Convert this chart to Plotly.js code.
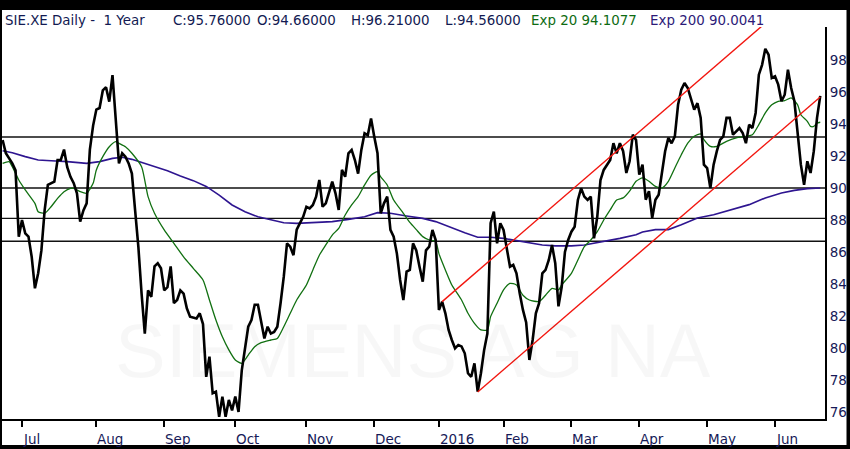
<!DOCTYPE html>
<html>
<head>
<meta charset="utf-8">
<script src="https://cdn.plot.ly/plotly-3.0.1.min.js"></script>
<style>html,body{margin:0;padding:0;background:#000;}#chart{width:850px;height:449px;}</style>
</head>
<body>
<div id="chart"></div>
<script>
// ---------- DATA ----------
const priceDates = [
"2015-06-23","2015-06-24","2015-06-26","2015-06-29","2015-06-30",
"2015-07-01","2015-07-02","2015-07-03","2015-07-06","2015-07-07","2015-07-08","2015-07-09","2015-07-10","2015-07-13","2015-07-15","2015-07-16","2015-07-17","2015-07-20","2015-07-21","2015-07-22","2015-07-23","2015-07-24","2015-07-27","2015-07-28","2015-07-29","2015-07-30","2015-07-31",
"2015-08-03","2015-08-04","2015-08-05","2015-08-06","2015-08-07","2015-08-10","2015-08-11","2015-08-12","2015-08-13","2015-08-14","2015-08-17","2015-08-18","2015-08-19","2015-08-20","2015-08-21","2015-08-24","2015-08-25","2015-08-26","2015-08-27","2015-08-28","2015-08-31",
"2015-09-01","2015-09-02","2015-09-03","2015-09-04","2015-09-07","2015-09-08","2015-09-09","2015-09-10","2015-09-11","2015-09-15","2015-09-16","2015-09-17","2015-09-18","2015-09-21","2015-09-22","2015-09-23","2015-09-24","2015-09-25","2015-09-28","2015-09-29","2015-09-30",
"2015-10-01","2015-10-02","2015-10-05","2015-10-06","2015-10-07","2015-10-08","2015-10-09","2015-10-12","2015-10-13","2015-10-14","2015-10-15","2015-10-16","2015-10-19","2015-10-20","2015-10-21","2015-10-22","2015-10-23","2015-10-26","2015-10-27","2015-10-28","2015-10-29","2015-10-30",
"2015-11-02","2015-11-03","2015-11-04","2015-11-05","2015-11-06","2015-11-09","2015-11-10","2015-11-12","2015-11-13","2015-11-16","2015-11-17","2015-11-18","2015-11-19","2015-11-20","2015-11-23","2015-11-24","2015-11-25","2015-11-26","2015-11-27","2015-11-30",
"2015-12-01","2015-12-02","2015-12-03","2015-12-04","2015-12-07","2015-12-08","2015-12-09","2015-12-10","2015-12-11","2015-12-14","2015-12-15","2015-12-16","2015-12-17","2015-12-18","2015-12-21","2015-12-22","2015-12-23","2015-12-28","2015-12-29","2015-12-30",
"2016-01-04","2016-01-05","2016-01-06","2016-01-07","2016-01-08","2016-01-11","2016-01-12","2016-01-13","2016-01-14","2016-01-15","2016-01-18","2016-01-19","2016-01-20","2016-01-21","2016-01-22","2016-01-25","2016-01-26","2016-01-27","2016-01-28","2016-01-29",
"2016-02-01","2016-02-02","2016-02-03","2016-02-04","2016-02-05","2016-02-08","2016-02-09","2016-02-10","2016-02-11","2016-02-12","2016-02-15","2016-02-16","2016-02-17","2016-02-18","2016-02-19","2016-02-22","2016-02-23","2016-02-24","2016-02-25","2016-02-26","2016-02-29",
"2016-03-01","2016-03-02","2016-03-03","2016-03-04","2016-03-07","2016-03-08","2016-03-09","2016-03-10","2016-03-11","2016-03-14","2016-03-15","2016-03-16","2016-03-17","2016-03-18","2016-03-21","2016-03-22","2016-03-23","2016-03-24","2016-03-29","2016-03-30","2016-03-31",
"2016-04-01","2016-04-04","2016-04-05","2016-04-06","2016-04-07","2016-04-08","2016-04-11","2016-04-12","2016-04-13","2016-04-14","2016-04-15","2016-04-18","2016-04-19","2016-04-20","2016-04-21","2016-04-22","2016-04-25","2016-04-26","2016-04-27","2016-04-28","2016-04-29",
"2016-05-02","2016-05-03","2016-05-04","2016-05-05","2016-05-06","2016-05-09","2016-05-10","2016-05-11","2016-05-12","2016-05-13","2016-05-17","2016-05-18","2016-05-19","2016-05-20","2016-05-23","2016-05-24","2016-05-25","2016-05-26","2016-05-27","2016-05-30","2016-05-31",
"2016-06-01","2016-06-02","2016-06-03","2016-06-06","2016-06-07","2016-06-08","2016-06-09","2016-06-10","2016-06-13","2016-06-14","2016-06-15","2016-06-16","2016-06-17","2016-06-20","2016-06-21"
];
const priceValues = [
93.0,92.17,91.54,91.1,86.96,
88.0,87.17,86.96,85.7,83.73,84.67,86.1,88.6,90.19,90.4,91.75,91.75,92.4,91.3,90.7,90.3,89.67,87.9,88.6,89.04,92.4,93.9,
94.9,95.0,96.1,96.3,95.4,97.06,94.25,91.54,92.17,91.96,91.54,90.9,88.6,86.33,83.4,80.9,83.6,83.2,85.1,85.3,84.98,
83.6,83.8,85.1,82.8,83.0,83.6,83.4,82.48,81.96,81.85,82.17,81.5,78.2,79.46,77.17,77.27,75.7,76.96,75.7,76.75,76.1,
76.96,76.0,78.6,80.08,81.33,81.75,82.7,82.7,81.75,80.6,81.33,80.9,81.0,81.33,82.8,84.46,86.54,86.33,85.8,87.4,87.8,88.2,
88.83,88.73,88.94,89.46,90.5,88.83,89.04,90.4,89.67,88.63,91.13,90.7,92.17,92.38,91.75,90.9,92.38,93.42,93.3,94.35,
93.2,92.17,88.42,89.04,89.46,87.38,86.96,85.9,84.25,83.0,84.77,84.88,86.54,86.1,85.08,84.15,86.1,86.33,87.38,86.75,
82.38,82.9,82.17,81.13,80.5,79.98,80.19,80.1,79.67,78.42,78.2,79.04,77.27,78.42,79.88,80.9,87.8,88.52,86.54,87.8,
87.38,86.33,85.08,85.19,84.67,83.42,82.38,81.6,79.25,80.5,82.17,82.8,84.67,84.88,85.5,86.44,85.3,82.6,83.83,86.0,86.75,
87.27,87.58,89.25,89.98,89.46,89.25,89.46,86.85,88.2,90.5,91.13,91.44,91.75,92.8,92.17,92.8,92.3,90.94,91.67,93.33,93.0,
90.83,91.46,89.27,89.8,88.13,89.27,89.58,90.83,92.3,93.13,92.8,93.23,95.2,96.15,96.56,96.25,95.63,94.9,95.3,94.38,91.46,
91.25,90.0,91.46,92.3,93.0,93.23,94.38,94.38,93.33,93.54,93.75,93.44,92.8,93.96,93.75,94.69,97.08,97.7,98.7,98.33,96.88,
96.98,96.46,95.42,95.83,97.4,96.25,95.42,93.33,91.46,90.2,91.67,90.94,92.3,94.38,95.76
];

const ema20Dates = [
"2015-06-23","2015-06-25","2015-06-26","2015-06-30","2015-07-02","2015-07-07","2015-07-08","2015-07-10","2015-07-14","2015-07-16","2015-07-20","2015-07-22","2015-07-23","2015-07-27","2015-07-29","2015-07-31",
"2015-08-03","2015-08-05","2015-08-07","2015-08-11","2015-08-12","2015-08-14","2015-08-18","2015-08-21","2015-08-25","2015-08-27",
"2015-09-01","2015-09-04","2015-09-09","2015-09-14","2015-09-17","2015-09-21","2015-09-23","2015-09-25","2015-09-29",
"2015-10-01","2015-10-05","2015-10-07","2015-10-09","2015-10-13","2015-10-16","2015-10-20","2015-10-22","2015-10-26","2015-10-28",
"2015-11-02","2015-11-04","2015-11-06","2015-11-10","2015-11-12","2015-11-16","2015-11-18","2015-11-20","2015-11-24","2015-11-26","2015-11-30",
"2015-12-02","2015-12-03","2015-12-07","2015-12-09","2015-12-14","2015-12-16","2015-12-18","2015-12-22","2015-12-28","2015-12-30",
"2016-01-04","2016-01-06","2016-01-08","2016-01-13","2016-01-15","2016-01-19","2016-01-21","2016-01-25","2016-01-26","2016-01-28",
"2016-02-01","2016-02-03","2016-02-05","2016-02-09","2016-02-11","2016-02-16","2016-02-18","2016-02-22","2016-02-24","2016-02-25",
"2016-03-01","2016-03-03","2016-03-07","2016-03-09","2016-03-11","2016-03-15","2016-03-17","2016-03-21","2016-03-23","2016-03-29","2016-03-31",
"2016-04-04","2016-04-06","2016-04-08","2016-04-12","2016-04-14","2016-04-18","2016-04-20","2016-04-22","2016-04-26","2016-04-28","2016-04-29",
"2016-05-03","2016-05-05","2016-05-10","2016-05-13","2016-05-19","2016-05-23","2016-05-25","2016-05-27","2016-05-31",
"2016-06-02","2016-06-06","2016-06-08","2016-06-10","2016-06-13","2016-06-15","2016-06-16","2016-06-17","2016-06-20","2016-06-21"
];
const ema20Values = [
91.54,91.65,91.33,90.5,89.88,89.04,88.52,88.42,88.83,89.35,89.77,89.98,89.98,89.77,89.67,90.29,
91.13,91.96,92.58,92.9,92.79,92.58,92.17,91.33,89.46,88.42,
87.38,86.54,85.7,84.98,84.25,83.0,81.75,80.7,79.88,
79.25,79.04,79.56,80.08,80.33,80.5,80.6,81.33,82.17,83.0,
83.94,84.88,85.8,86.44,87.06,87.48,88.31,88.94,89.46,90.19,90.8,
91.02,90.7,90.19,89.25,88.42,87.85,87.4,86.96,86.75,86.65,
85.9,84.88,83.94,83.0,82.17,81.54,81.13,81.13,81.96,82.8,
83.63,84.04,83.94,83.3,83.0,82.9,83.3,83.73,83.63,83.94,
84.67,85.5,86.33,86.75,87.27,88.0,88.63,89.25,89.38,89.8,90.42,
90.63,90.42,90.1,90.0,90.42,91.25,92.08,92.81,93.23,93.38,93.02,
92.6,92.6,92.92,93.13,93.23,93.33,93.96,94.69,95.2,
95.42,95.46,95.63,95.2,94.58,94.17,93.85,93.85,94.06,94.11
];

const ema200Dates = [
"2015-06-23","2015-06-26","2015-07-02","2015-07-08","2015-07-14","2015-07-21","2015-07-29","2015-08-04","2015-08-10","2015-08-13","2015-08-18","2015-08-24","2015-08-27",
"2015-09-02","2015-09-08","2015-09-14","2015-09-18","2015-09-24","2015-09-30","2015-10-06","2015-10-12","2015-10-16","2015-10-22","2015-10-28",
"2015-11-05","2015-11-12","2015-11-19","2015-11-26","2015-12-02","2015-12-08","2015-12-15","2015-12-22","2015-12-30",
"2016-01-07","2016-01-14","2016-01-20","2016-01-26","2016-02-01","2016-02-05","2016-02-11","2016-02-17","2016-02-23",
"2016-03-01","2016-03-07","2016-03-11","2016-03-17","2016-03-22","2016-03-31","2016-04-04","2016-04-08","2016-04-14","2016-04-20","2016-04-27",
"2016-05-04","2016-05-12","2016-05-20","2016-05-27","2016-06-03","2016-06-09","2016-06-15","2016-06-21"
];
const ema200Values = [
92.33,92.2,91.96,91.75,91.7,91.65,91.54,91.65,91.85,91.92,91.79,91.54,91.33,
91.08,90.75,90.46,90.1,89.56,88.94,88.52,88.2,88.0,87.83,87.79,
87.83,87.9,88.04,88.2,88.46,88.42,88.25,88.1,87.9,
87.58,87.2,86.92,86.92,86.85,86.71,86.58,86.44,86.38,
86.38,86.44,86.58,86.75,86.85,87.08,87.25,87.4,87.4,87.7,88.13,
88.33,88.65,88.96,89.38,89.69,89.85,89.96,90.0
];

const levelValues = [93.19, 90.0, 88.1, 86.67];

const channelStartDates = ["2016-01-05", "2016-01-20"];
const channelStartValues = [82.9, 77.25];
const channelEndDates = ["2016-05-26", "2016-06-21"];
const channelEndValues = [100.13, 95.69];

const monthTickDates = ["2015-07-01","2015-08-03","2015-09-01","2015-10-01","2015-11-02","2015-12-01","2016-01-04","2016-02-01","2016-03-01","2016-04-01","2016-05-02","2016-06-01"];
const monthTickLabels = ["Jul","Aug","Sep","Oct","Nov","Dec","2016","Feb","Mar","Apr","May","Jun"];
const priceTicks = [76,78,80,82,84,86,88,90,92,94,96,98];

const holidays = ["2015-12-24","2015-12-25","2015-12-31","2016-01-01","2016-03-25","2016-03-28","2016-05-16"];

const titleParts = [
  {text: "SIE.XE Daily -\u00a0\u00a01 Year", px: 3, color: "#121a52"},
  {text: "C:95.76000", px: 171, color: "#121a52"},
  {text: "O:94.66000", px: 254.5, color: "#121a52"},
  {text: "H:96.21000", px: 349, color: "#121a52"},
  {text: "L:94.56000", px: 443, color: "#121a52"},
  {text: "Exp 20 94.1077", px: 529, color: "#0d6b12"},
  {text: "Exp 200 90.0041", px: 648, color: "#2c1a78"}
];

// ---------- LAYOUT HELPERS ----------
const W = 850, H = 449;
const M = {l: 2, r: 25, t: 27, b: 30};
const PW = W - M.l - M.r, PH = H - M.t - M.b;
const px2paperX = p => (p - M.l) / PW;
const py2paperY = p => (H - M.b - p) / PH;

const navy = "#161a58";
const FONT = "DejaVu Sans, Verdana, sans-serif";

const traces = [
  {x: ema200Dates, y: ema200Values, type: "scatter", mode: "lines",
   line: {color: "#2e1590", width: 1.6}, hoverinfo: "skip"},
  {x: ema20Dates, y: ema20Values, type: "scatter", mode: "lines",
   line: {color: "#117011", width: 1.3, shape: "spline", smoothing: 0.6}, hoverinfo: "skip"},
  {x: priceDates, y: priceValues, type: "scatter", mode: "lines",
   line: {color: "#000000", width: 2.6}, hoverinfo: "skip"}
];

const shapes = [
  {type: "rect", xref: "paper", yref: "paper", layer: "below",
   x0: px2paperX(2), x1: px2paperX(846.5), y0: py2paperY(445), y1: py2paperY(10),
   fillcolor: "#ffffff", line: {width: 0}}
];
levelValues.forEach(v => shapes.push({
  type: "line", xref: "paper", yref: "y", layer: "below",
  x0: 0, x1: 1, y0: v, y1: v, line: {color: "#111111", width: 1.4}
}));
channelStartDates.forEach((d, i) => shapes.push({
  type: "line", xref: "x", yref: "y",
  x0: d, y0: channelStartValues[i], x1: channelEndDates[i], y1: channelEndValues[i],
  line: {color: "#f2160f", width: 1.4}
}));

const annotations = [];
titleParts.forEach(t => annotations.push({
  xref: "paper", yref: "paper", x: px2paperX(t.px), y: py2paperY(20),
  xanchor: "left", yanchor: "middle", showarrow: false, text: t.text,
  font: {family: FONT, size: 13.4, color: t.color}
}));
monthTickDates.forEach((d, i) => annotations.push({
  xref: "x", yref: "paper", x: d, y: py2paperY(439),
  xanchor: "left", yanchor: "middle", showarrow: false, text: monthTickLabels[i],
  xshift: -1, font: {family: FONT, size: 13.5, color: navy}
}));
annotations.push({
  xref: "paper", yref: "paper", x: px2paperX(413), y: py2paperY(350),
  xanchor: "center", yanchor: "middle", showarrow: false, text: "SIEMENS AG NA",
  font: {family: "Liberation Sans, Arial, sans-serif", size: 76, color: "rgba(0,0,0,0.03)"}
});

const layout = {
  width: W, height: H,
  margin: M,
  paper_bgcolor: "#000000",
  plot_bgcolor: "#ffffff",
  showlegend: false,
  xaxis: {
    type: "date",
    range: ["2015-06-22 19:25", "2016-06-22 11:15"],
    rangebreaks: [{bounds: ["sat", "mon"]}, {values: holidays}],
    tickmode: "array", tickvals: monthTickDates, showticklabels: false,
    ticks: "outside", ticklen: 6, tickwidth: 2, tickcolor: "#000",
    showline: true, linewidth: 2, linecolor: "#000",
    showgrid: false, zeroline: false, fixedrange: true
  },
  yaxis: {
    side: "right",
    range: [75.5625, 100.0625],
    tickmode: "array", tickvals: priceTicks, ticktext: priceTicks.map(String),
    ticks: "", showline: true, linewidth: 2, linecolor: "#000",
    showgrid: false, zeroline: false,
    tickfont: {family: FONT, size: 13.5, color: navy},
    fixedrange: true
  },
  shapes: shapes,
  annotations: annotations
};

Plotly.newPlot("chart", traces, layout, {displayModeBar: false, staticPlot: true});
</script>
</body>
</html>
